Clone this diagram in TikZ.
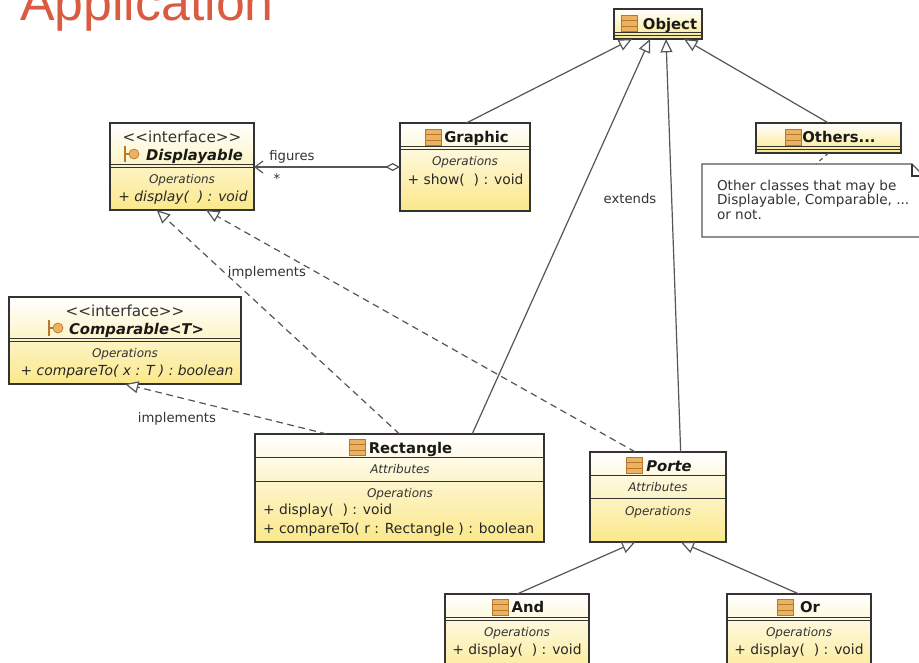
\documentclass[tikz,border=0pt]{standalone}
\usepackage{fontspec}
\setmainfont{DejaVu Sans}
\newfontfamily\titlefont{Liberation Sans}
\usetikzlibrary{arrows.meta}
\definecolor{umlink}{HTML}{333333}
\definecolor{umlline}{HTML}{555555}
\definecolor{umlyellow}{HTML}{FBE88A}
\definecolor{slidered}{HTML}{DB5B41}
\definecolor{iconfill}{HTML}{EBB264}
\definecolor{iconline}{HTML}{B9772A}
\tikzset{
  every node/.style={inner sep=0pt, outer sep=0pt},
  classbox/.style={draw=umlink, line width=0.85pt, rectangle, top color=white, bottom color=umlyellow},
  rule/.style={umlink, line width=0.65pt},
  nameline/.style={anchor=base, font=\fontsize{11.1}{13}\selectfont\bfseries, text=black!90},
  stereo/.style={anchor=base, font=\fontsize{11.4}{13}\selectfont, text=umlink},
  group/.style={anchor=base, font=\fontsize{9}{10}\selectfont\itshape, text=umlink},
  member/.style={anchor=base, font=\fontsize{10.4}{12}\selectfont, text=black!85},
  label/.style={anchor=base, font=\fontsize{9.9}{11}\selectfont, text=umlink},
  extends/.style={umlline, line width=0.9pt, -{Triangle[open,fill=white,length=10pt,width=9pt]}},
  implements/.style={extends, dash pattern=on 5pt off 3.5pt},
  classicon/.pic={
    \draw[draw=iconline, fill=iconfill, line width=0.7pt] (-8,-8) rectangle (8,8);
    \draw[iconline, line width=0.4pt] (-8,-3) -- (8,-3) (-8,3) -- (8,3);
  },
  faceicon/.pic={
    \draw[iconline, line width=0.8pt] (-9,-8) -- (-9,8) (-9,0) -- (-5,0);
    \draw[draw=iconline, fill=iconfill, line width=0.5pt] (0,0) circle (5);
  }
}
\begin{document}
\begin{tikzpicture}[x=0.75pt,y=-0.75pt]
  \useasboundingbox (0,0) rectangle (919,662);
  \clip (0,0) rectangle (919,662);
  \fill[white] (0,0) rectangle (919,662);

  \node[anchor=base west, text=slidered, font=\titlefont\fontsize{38.9}{40}\selectfont] (title) at (20,20) {Application};

  % classes
  \node[classbox, minimum width=66pt, minimum height=22.5pt] (object) at (658,24) {};
  \node[classbox, minimum width=97.5pt, minimum height=66pt] (graphic) at (465,167) {};
  \node[classbox, minimum width=108.75pt, minimum height=22.5pt] (others) at (828.5,138) {};
  \node[classbox, minimum width=108pt, minimum height=65.25pt] (displayable) at (182,166.5) {};
  \node[classbox, minimum width=174pt, minimum height=65.25pt] (comparable) at (125,340.5) {};
  \node[classbox, minimum width=216.75pt, minimum height=81pt] (rectangle) at (399.5,488) {};
  \node[classbox, minimum width=102pt, minimum height=67.5pt] (porte) at (658,497) {};
  \node[classbox, minimum width=108pt, minimum height=67.5pt] (and) at (517,639) {};
  \node[classbox, minimum width=108pt, minimum height=67.5pt] (or) at (799,639) {};

  % compartments
  \draw[rule] (614,32) -- (702,32) (614,35) -- (702,35);
  \draw[rule] (400,146) -- (530,146) (400,149) -- (530,149);
  \draw[rule] (756,146) -- (901,146) (756,149) -- (901,149);
  \draw[rule] (110,164) -- (254,164) (110,167) -- (254,167);
  \draw[rule] (9,338) -- (241,338) (9,341) -- (241,341);
  \draw[rule] (255,457) -- (544,457) (255,481) -- (544,481);
  \draw[rule] (590,475) -- (726,475) (590,498) -- (726,498);
  \draw[rule] (445,617) -- (589,617) (445,620) -- (589,620);
  \draw[rule] (727,617) -- (871,617) (727,620) -- (871,620);

  % icons
  \pic at (629,23) {classicon};
  \pic at (433,137) {classicon};
  \pic at (793,137) {classicon};
  \pic at (357.5,447) {classicon};
  \pic at (634,465) {classicon};
  \pic at (500,607) {classicon};
  \pic at (785,607) {classicon};
  \pic at (134,154) {faceicon};
  \pic at (58,328) {faceicon};

  % texts
  \node[nameline] (objectname) at (670,29) {Object};
  \node[nameline] (graphicname) at (476.5,142) {Graphic};
  \node[nameline] (othersname) at (839,142) {Others...};
  \node[nameline] (rectanglename) at (410.5,453) {Rectangle};
  \node[nameline] (portename) at (669,471) {\itshape Porte};
  \node[nameline] (andname) at (528,612) {And};
  \node[nameline] (orname) at (810,612) {Or};

  \node[stereo] (displayablestereo) at (182,142) {<{}<interface>{}>};
  \node[nameline] (displayablename) at (194.5,160) {\itshape Displayable};
  \node[stereo] (comparablestereo) at (125,316) {<{}<interface>{}>};
  \node[nameline] (comparablename) at (136.5,334) {\itshape Comparable<T>};

  \node[group] (graphicops) at (465,165) {Operations};
  \node[group] (displayableops) at (182,183) {Operations};
  \node[group] (comparableops) at (125,357) {Operations};
  \node[group] (rectangleattr) at (400,473) {Attributes};
  \node[group] (rectangleops) at (400,497) {Operations};
  \node[group] (porteattr) at (658,491) {Attributes};
  \node[group] (porteops) at (658,515) {Operations};
  \node[group] (andops) at (517,636) {Operations};
  \node[group] (orops) at (799,636) {Operations};

  \node[member] (showop) at (465.5,184) {+ show(\ \ ) : void};
  \node[member] (displayop) at (183,201) {\itshape + display(\ \ ) : void};
  \node[member] (compareop) at (127,375) {\itshape + compareTo( x : T ) : boolean};
  \node[member, anchor=base west] (rectdisplay) at (263,514) {+ display(\ \ ) : void};
  \node[member, anchor=base west] (rectcompare) at (263,533) {+ compareTo( r : Rectangle ) : boolean};
  \node[member] (anddisplay) at (517,654) {+ display(\ \ ) : void};
  \node[member] (ordisplay) at (799,654) {+ display(\ \ ) : void};

  % note
  \coordinate (notetop) at (816,164);
  \draw[umlline, line width=0.9pt, fill=white] (702,164) -- (912,164) -- (926,178) -- (926,237) -- (702,237) -- cycle;
  \draw[umlink, line width=0.8pt] (912,164) -- (912,176) -- (926,176);
  \node[label, anchor=base west, font=\fontsize{10.2}{12}\selectfont] (noteone) at (717,190) {Other classes that may be};
  \node[label, anchor=base west, font=\fontsize{10.2}{12}\selectfont] (notetwo) at (717,204.5) {Displayable, Comparable, ...};
  \node[label, anchor=base west, font=\fontsize{10.2}{12}\selectfont] (notethree) at (717,219) {or not.};

  % connectors
  \draw[extends] ([xshift=1pt]graphic.north) -- ([xshift=-19.5pt]object.south);
  \draw[extends] ([xshift=54.5pt]rectangle.north) -- ([xshift=-6pt]object.south);
  \draw[extends] ([xshift=17pt]porte.north) -- ([xshift=6pt]object.south);
  \draw[extends] (others.north) -- ([xshift=19.5pt]object.south);
  \draw[extends] (and.north) -- ([xshift=-17pt]porte.south);
  \draw[extends] (or.north) -- ([xshift=17pt]porte.south);
  \draw[implements] (rectangle.north) -- ([xshift=-19pt]displayable.south);
  \draw[implements] ([xshift=-17pt]porte.north) -- ([xshift=18pt]displayable.south);
  \draw[implements] ([xshift=-54.5pt]rectangle.north) -- (comparable.south);
  \draw[umlline, line width=0.9pt, dashed] (others.south) -- (notetop);
  \draw[umlline, line width=0.9pt, {Diamond[open,fill=white,length=11pt,width=6pt]}-{Straight Barb[length=6pt,width=9pt]}] (graphic.west) -- (displayable.east |- graphic.west);

  % labels
  \node[label] (figureslabel) at (292,160) {figures};
  \node[label] (starlabel) at (277,183) {*};
  \node[label] (extendslabel) at (630,203) {extends};
  \node[label] (implementslabel) at (267,276) {implements};
  \node[label] (implementstwo) at (177,422) {implements};
\end{tikzpicture}
\end{document}
